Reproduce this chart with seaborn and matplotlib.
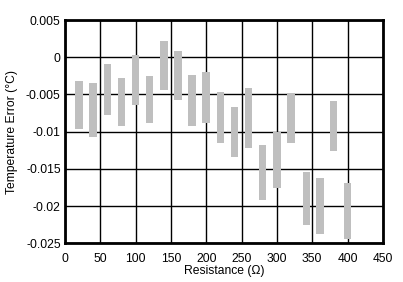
import matplotlib
matplotlib.use("Agg")
import matplotlib.pyplot as plt
import seaborn as sns
import numpy as np
import pandas as pd

# Data
resistance = [20, 40, 60, 80, 100, 120, 140, 160, 180, 200,
              220, 240, 260, 280, 300, 320, 342, 361, 380, 400]
err_high = [-0.0032, -0.0035, -0.0009, -0.0028, 0.0003, -0.0025, 0.0022, 0.00085, -0.0024, -0.0020,
            -0.0047, -0.0067, -0.0041, -0.0118, -0.0100, -0.0048, -0.0154, -0.0162, -0.0059, -0.0169]
err_low = [-0.0097, -0.0107, -0.0078, -0.0093, -0.0064, -0.0088, -0.0044, -0.0057, -0.0093, -0.0088,
           -0.0115, -0.0134, -0.0122, -0.0192, -0.0175, -0.0115, -0.0225, -0.0237, -0.0126, -0.0244]
x_ticks = [0, 50, 100, 150, 200, 250, 300, 350, 400, 450]
y_ticks = [0.005, 0, -0.005, -0.01, -0.015, -0.02, -0.025]
y_tick_labels = ["0.005", "0", "-0.005", "-0.01", "-0.015", "-0.02", "-0.025"]
x_label = "Resistance (\u03a9)"
y_label = "Temperature Error (\u00b0C)"

sns.set_theme(style="white")
plt.rcParams['font.family'] = ['Liberation Sans', 'DejaVu Sans']

df = pd.DataFrame({"r": resistance,
                   "span": np.array(err_high) - np.array(err_low),
                   "low": err_low})

fig = plt.figure(figsize=(4.03, 2.82), dpi=100)
ax = fig.add_axes([0.161, 0.137, 0.789, 0.792])

min_gap = np.min(np.diff(resistance))
sns.barplot(data=df, x="r", y="span", native_scale=True, ax=ax,
            bottom=df["low"].to_numpy(), color="#BFBFBF", saturation=1,
            width=10.5 / min_gap, linewidth=0, zorder=3)

ax.set_xlim(0, 450)
ax.set_ylim(-0.025, 0.005)
ax.set_xticks(x_ticks)
ax.set_xticklabels([str(t) for t in x_ticks], fontsize=8.7, color="black")
ax.set_yticks(y_ticks)
ax.set_yticklabels(y_tick_labels, fontsize=8.7, color="black")
ax.tick_params(axis="x", length=0, pad=7)
ax.tick_params(axis="y", length=0, pad=3)
ax.grid(True, color="black", linewidth=1.0, zorder=0)
ax.set_axisbelow(True)
for s in ax.spines.values():
    s.set_visible(True)
    s.set_color("black")
    s.set_linewidth(2)
ax.set_xlabel(x_label, fontsize=8.7, color="black", labelpad=0)
ax.set_ylabel(y_label, fontsize=8.7, color="black", labelpad=6)

fig.savefig("out.png", dpi=100)
